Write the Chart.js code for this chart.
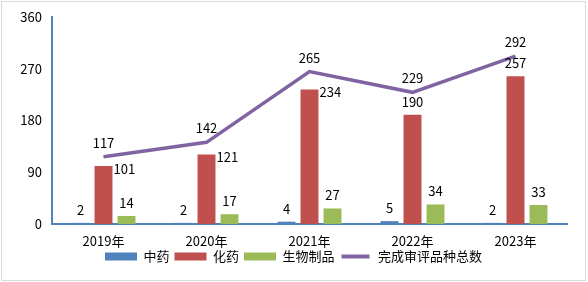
<!DOCTYPE html>
<html>
<head>
<meta charset="utf-8">
<script src="https://cdn.jsdelivr.net/npm/chart.js@4.4.0/dist/chart.umd.min.js"></script>
<style>
    html, body { margin: 0; padding: 0; background: #fff; }
    #wrap { position: absolute; left: 1px; top: 1px; width: 583px; height: 278px; border: 1px solid #d9d9d9; }
    canvas { display: block; }
</style>
</head>
<body>
<div id="wrap"><canvas id="chart" width="583" height="278"></canvas></div>
<script>
// data
const years = ['2019年', '2020年', '2021年', '2022年', '2023年'];
const tcm = [2, 2, 4, 5, 2];                // 中药
const chemical = [101, 121, 234, 190, 257]; // 化药
const biologics = [14, 17, 27, 34, 33];     // 生物制品
const totals = [117, 142, 265, 229, 292];   // 完成审评品种总数
const yTicks = [0, 90, 180, 270, 360];

const FONT = '"Noto Sans CJK SC", "Noto Sans", sans-serif';

// red labels sit beside the bar for the first three years, above it after
const redLabelSide = ['right', 'right', 'right', 'top', 'top'];

const valueLabels = {
    id: 'valueLabels',
    afterDatasetsDraw(chart) {
        const ctx = chart.ctx;
        ctx.save();
        ctx.font = '13px ' + FONT;
        ctx.fillStyle = '#000';
        ctx.textBaseline = 'middle';
        chart.data.datasets.forEach((ds, di) => {
            const meta = chart.getDatasetMeta(di);
            meta.data.forEach((el, i) => {
                const v = ds.data[i];
                if (di === 1 && redLabelSide[i] === 'right') {
                    ctx.textAlign = 'left';
                    ctx.fillText(v, el.x + el.width / 2 + 1, el.y + 3);
                } else if (di === 3) {
                    ctx.textAlign = 'center';
                    ctx.fillText(v, el.x, el.y - 14);
                } else {
                    ctx.textAlign = 'center';
                    ctx.fillText(v, el.x, el.y - 13);
                }
            });
        });
        ctx.restore();
    }
};

// legend is centred on the whole picture, not on the padded box
const legendNudge = {
    id: 'legendNudge',
    afterLayout(chart) {
        const lg = chart.legend;
        lg.left += 9; lg.right += 9;
        lg.top -= 5; lg.bottom -= 5;
    }
};

new Chart(document.getElementById('chart'), {
    type: 'bar',
    data: {
        labels: years,
        datasets: [
            { label: '中药', data: tcm, backgroundColor: '#4F81BD', categoryPercentage: 0.67, barPercentage: 0.78 },
            { label: '化药', data: chemical, backgroundColor: '#C0504D', categoryPercentage: 0.67, barPercentage: 0.78 },
            { label: '生物制品', data: biologics, backgroundColor: '#9BBB59', categoryPercentage: 0.67, barPercentage: 0.78 },
            {
                type: 'line', label: '完成审评品种总数', data: totals,
                borderColor: '#8064A2', backgroundColor: '#8064A2',
                borderWidth: 3.5, pointRadius: 0, tension: 0
            }
        ]
    },
    options: {
        responsive: false,
        animation: false,
        layout: { padding: { left: 0, right: 18, top: 15, bottom: 2 } },
        plugins: {
            tooltip: { enabled: false },
            legend: {
                position: 'bottom',
                labels: {
                    font: { family: FONT, size: 13 },
                    color: '#000',
                    boxWidth: 32,
                    boxHeight: 8,
                    padding: 5,
                    generateLabels(chart) {
                        const items = Chart.defaults.plugins.legend.labels.generateLabels(chart);
                        items.forEach((it, i) => {
                            if (i === 3) {
                                // thin the box into a line swatch
                                it.strokeStyle = '#fff';
                                it.lineWidth = 4;
                                it.fillStyle = '#8064A2';
                            } else {
                                it.lineWidth = 0;
                            }
                        });
                        return items;
                    }
                }
            }
        },
        scales: {
            x: {
                grid: { display: false, drawTicks: false },
                border: { color: '#4F81BD', width: 2 },
                ticks: { font: { family: FONT, size: 13 }, color: '#000', padding: 9 },
                afterFit(s) { s.height = 26; }
            },
            y: {
                min: 0, max: 360,
                afterBuildTicks(s) { s.ticks = yTicks.map(v => ({ value: v })); },
                grid: { display: false, drawTicks: false },
                border: { color: '#4F81BD', width: 2 },
                ticks: { font: { family: FONT, size: 13 }, color: '#000', padding: 10 },
                afterFit(s) { s.width = 50; s.paddingTop = 0; s.paddingBottom = 0; }
            }
        }
    },
    plugins: [valueLabels, legendNudge]
});
</script>
</body>
</html>
